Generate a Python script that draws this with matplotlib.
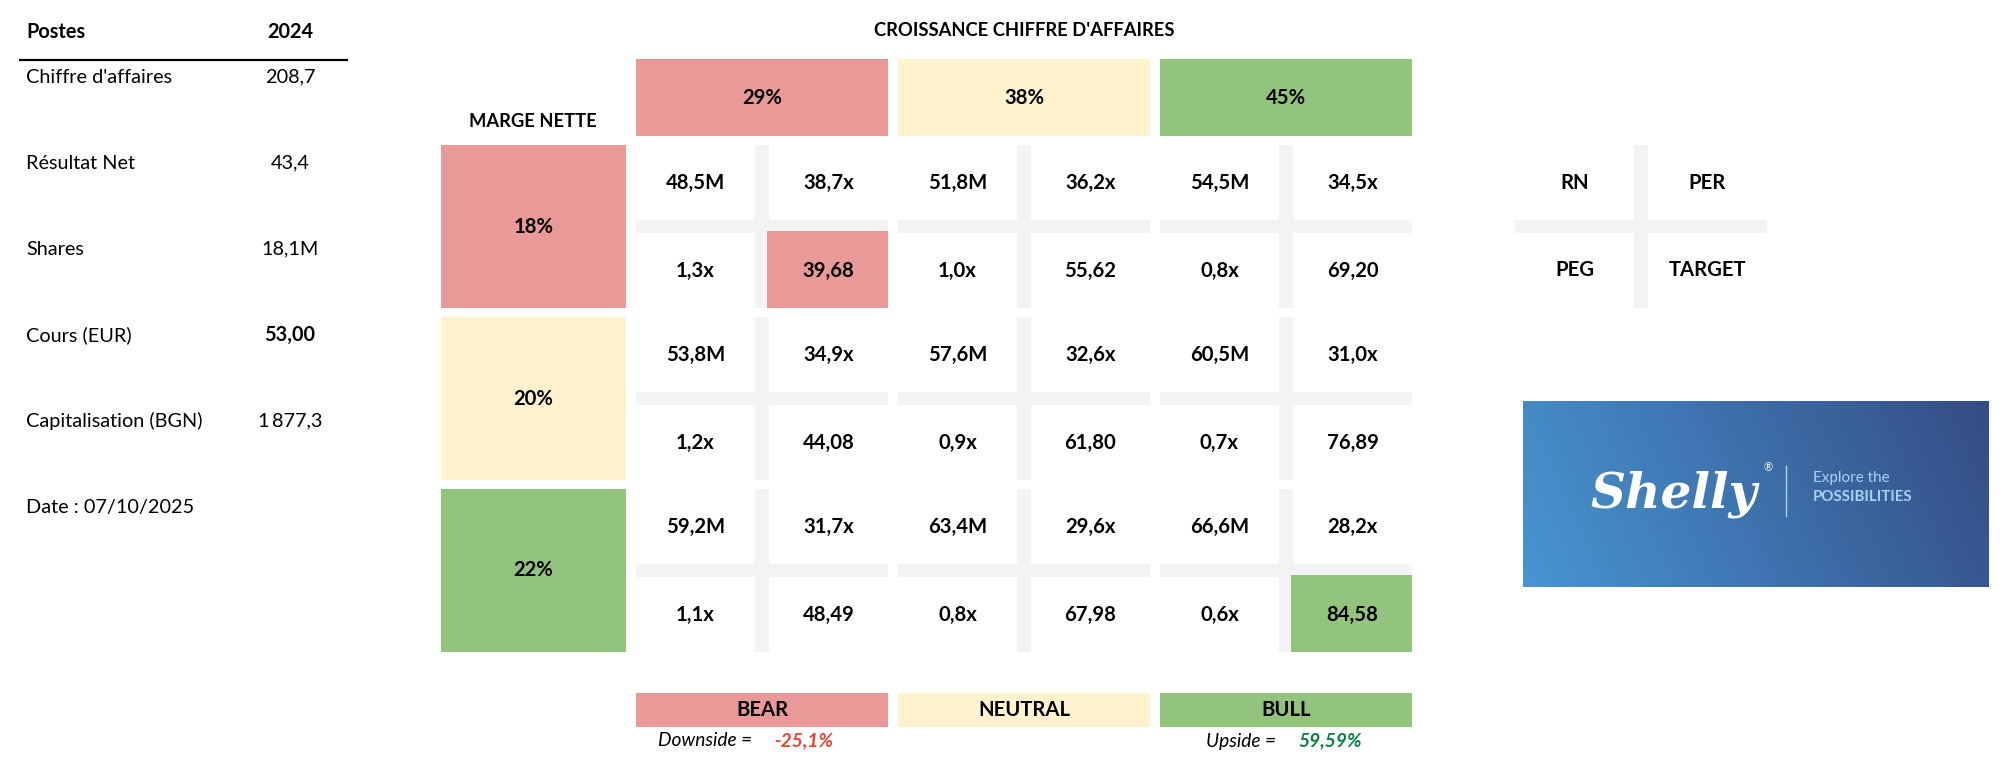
import numpy as np
import matplotlib
matplotlib.use("Agg")
import matplotlib.pyplot as plt
from matplotlib.patches import Rectangle

plt.rcParams['font.family'] = ['Lato', 'DejaVu Sans']

# ---- data ----
growth = ["29%", "38%", "45%"]
margins = ["18%", "20%", "22%"]
scenarios = ["BEAR", "NEUTRAL", "BULL"]
rn = [[48.5, 51.8, 54.5], [53.8, 57.6, 60.5], [59.2, 63.4, 66.6]]
per = [[38.7, 36.2, 34.5], [34.9, 32.6, 31.0], [31.7, 29.6, 28.2]]
peg = [[1.3, 1.0, 0.8], [1.2, 0.9, 0.7], [1.1, 0.8, 0.6]]
target = [[39.68, 55.62, 69.20], [44.08, 61.80, 76.89], [48.49, 67.98, 84.58]]
postes = ["Chiffre d'affaires", "Résultat Net", "Shares", "Cours (EUR)", "Capitalisation (BGN)"]
postes_2024 = ["208,7", "43,4", "18,1M", "53,00", "1\u2009877,3"]
date_txt = "Date : 07/10/2025"
downside = "-25,1%"
upside = "59,59%"
key_labels = ["RN", "PER", "PEG", "TARGET"]

RED, YELLOW, GREEN, GRAY = "#EA9999", "#FFF2CC", "#93C47D", "#F3F3F3"
level_colors = [RED, YELLOW, GREEN]


def fr(v, nd):
    return f"{v:.{nd}f}".replace(".", ",")


fig = plt.figure(figsize=(20.04, 7.84), dpi=100)
ax = fig.add_axes([0, 0, 1, 1])
ax.set_xlim(0, 2004)
ax.set_ylim(784, 0)
ax.axis("off")

# grid geometry (pixels)
gx0, bw, gap = 636, 252, 10
gy0, bh, rgap = 145, 163, 9
sub_w, vsep = 119, 14
sub_h, hsep = 75, 13
fs = 14.6
fs_tab = 14.3


def rect(x, y, w, h, c, z=1):
    ax.add_patch(Rectangle((x, y), w, h, facecolor=c, edgecolor="none", zorder=z))


def block_x(j):
    return gx0 + j * (bw + gap)


def block_y(i):
    return gy0 + i * (bh + rgap)


# title and headers
ax.text(gx0 + (3 * bw + 2 * gap) / 2, 30, "CROISSANCE CHIFFRE D'AFFAIRES", ha="center", va="center",
        fontsize=13.2, fontweight="bold")
ax.text(533, 121, "MARGE NETTE", ha="center", va="center", fontsize=13.2, fontweight="bold")
for j, g in enumerate(growth):
    rect(block_x(j), 59, bw, 77, level_colors[j])
    ax.text(block_x(j) + bw / 2, 97.5, g, ha="center", va="center", fontsize=fs, fontweight="bold", zorder=3)
for i, m in enumerate(margins):
    rect(441, block_y(i), 185, bh, level_colors[i])
    ax.text(441 + 185 / 2, block_y(i) + bh / 2, m, ha="center", va="center", fontsize=fs, fontweight="bold", zorder=3)

# lowest and highest target get coloured
tgt = np.array(target)
lo = np.unravel_index(tgt.argmin(), tgt.shape)
hi = np.unravel_index(tgt.argmax(), tgt.shape)

for i in range(3):
    for j in range(3):
        x, y = block_x(j), block_y(i)
        rect(x + sub_w, y, vsep, bh, GRAY)
        rect(x, y + sub_h, bw, hsep, GRAY)
        if (i, j) == lo or (i, j) == hi:
            rect(x + sub_w + vsep - 2, y + sub_h + hsep - 2, bw - sub_w - vsep + 2, sub_h + 2,
                 RED if (i, j) == lo else GREEN, z=2)
        cells = [f"{fr(rn[i][j], 1)}M", f"{fr(per[i][j], 1)}x", f"{fr(peg[i][j], 1)}x", fr(target[i][j], 2)]
        for k, txt in enumerate(cells):
            cx = x + sub_w / 2 if k % 2 == 0 else x + sub_w + vsep + sub_w / 2
            cy = y + sub_h / 2 if k < 2 else y + sub_h + hsep + sub_h / 2
            ax.text(cx, cy, txt, ha="center", va="center", fontsize=fs, fontweight="bold", zorder=3)

# key block RN / PER / PEG / TARGET
kx = 1515
rect(kx + sub_w, gy0, vsep, bh, GRAY)
rect(kx, gy0 + sub_h, bw, hsep, GRAY)
for k, lab in enumerate(key_labels):
    cx = kx + sub_w / 2 if k % 2 == 0 else kx + sub_w + vsep + sub_w / 2
    cy = gy0 + sub_h / 2 if k < 2 else gy0 + sub_h + hsep + sub_h / 2
    ax.text(cx, cy, lab, ha="center", va="center", fontsize=fs, fontweight="bold")

# scenario legend
for j, s in enumerate(scenarios):
    rect(block_x(j), 693, bw, 34, level_colors[j])
    ax.text(block_x(j) + bw / 2, 710, s, ha="center", va="center", fontsize=fs, fontweight="bold", zorder=3)
ax.text(block_x(0) + 116, 741, "Downside =", ha="right", va="center", fontsize=13.8, style="italic")
ax.text(block_x(0) + 138, 741, downside, ha="left", va="center", fontsize=13.8, style="italic",
        fontweight="bold", color="#EA4335")
ax.text(block_x(2) + 116, 741, "Upside =", ha="right", va="center", fontsize=13.8, style="italic")
ax.text(block_x(2) + 138, 741, upside, ha="left", va="center", fontsize=13.8, style="italic",
        fontweight="bold", color="#0B8043")

# left table
ax.text(26, 32, "Postes", ha="left", va="center", fontsize=fs_tab, fontweight="bold")
ax.text(290, 32, "2024", ha="center", va="center", fontsize=fs_tab, fontweight="bold")
ax.plot([19, 348], [60, 60], color="black", lw=1.6, solid_capstyle="butt")
for r, (p, v) in enumerate(zip(postes, postes_2024)):
    y = 77 + r * 86
    ax.text(26, y, p, ha="left", va="center", fontsize=fs_tab)
    ax.text(290, y, v, ha="center", va="center", fontsize=fs_tab,
            fontweight="bold" if p.startswith("Cours") else "normal")
ax.text(26, 77 + 5 * 86, date_txt, ha="left", va="center", fontsize=fs_tab)

# logo panel
lx0, lx1, ly0, ly1 = 1523, 1989, 401, 587
c0 = np.array([71, 150, 210]) / 255
c1 = np.array([53, 76, 133]) / 255
xx, yy = np.meshgrid(np.linspace(0, 1, 300), np.linspace(0, 1, 120))
t = np.clip(0.85 * xx + 0.15 * (1 - yy), 0, 1)[..., None]
ax.imshow(c0 + (c1 - c0) * t, extent=(lx0, lx1, ly1, ly0), aspect="auto", zorder=1)
ax.text(1674, 494, "Shelly", ha="center", va="center", fontsize=35, color="white",
        family=["DejaVu Serif"], style="italic", fontweight="bold")
ax.text(1768, 468, "®", ha="center", va="center", fontsize=8, color="white")
ax.plot([1786, 1786], [466, 516], color="#A9D3F2", lw=1)
ax.text(1813, 478, "Explore the", ha="left", va="center", fontsize=11, color="#A9D3F2")
ax.text(1813, 497, "POSSIBILITIES", ha="left", va="center", fontsize=10.8, color="#A9D3F2", fontweight="bold")

ax.set_xlim(0, 2004)
ax.set_ylim(784, 0)
fig.savefig("out.png", dpi=100)
